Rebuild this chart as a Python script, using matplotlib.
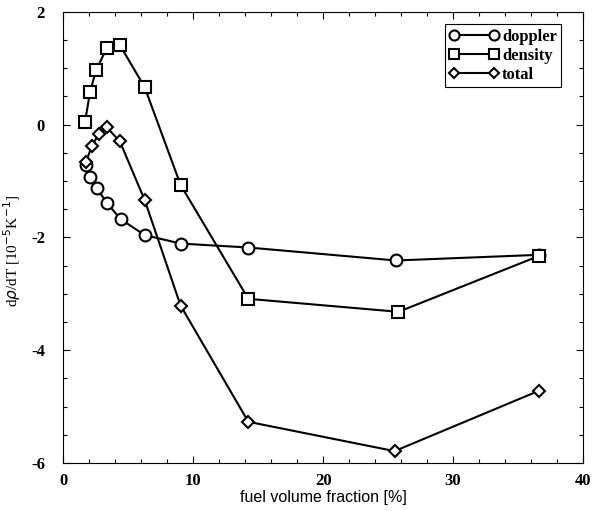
import matplotlib
matplotlib.use("Agg")
import matplotlib.pyplot as plt
from matplotlib.ticker import MultipleLocator

density_x = [1.69, 2.07, 2.53, 3.37, 4.37, 6.28, 9.04, 14.25, 25.8, 36.6]
density_y = [0.05, 0.57, 0.96, 1.36, 1.41, 0.66, -1.07, -3.09, -3.32, -2.33]

doppler_x = [1.76, 2.07, 2.6, 3.37, 4.44, 6.28, 9.04, 14.25, 25.6, 36.6]
doppler_y = [-0.71, -0.93, -1.13, -1.39, -1.68, -1.96, -2.11, -2.18, -2.41, -2.31]

total_x = [1.76, 2.22, 2.76, 3.37, 4.37, 6.28, 9.04, 14.25, 25.5, 36.6]
total_y = [-0.66, -0.38, -0.16, -0.05, -0.30, -1.34, -3.21, -5.27, -5.79, -4.72]

xticks = [0, 10, 20, 30, 40]
yticks = [-6, -4, -2, 0, 2]

fig = plt.figure(figsize=(5.95, 5.11), dpi=100)
ax = fig.add_axes([0.106, 0.094, 0.874, 0.883])

style = dict(color="black", lw=1.5, markerfacecolor="white", markeredgecolor="black",
             markeredgewidth=1.5)
ax.plot(doppler_x, doppler_y, marker="o", ms=8.5, label="doppler", **style)
ax.plot(density_x, density_y, marker="s", ms=8, label="density", **style)
ax.plot(total_x, total_y, marker="D", ms=6, label="total", **style)

ax.set_xlim(0, 40)
ax.set_ylim(-6, 2)
ax.set_xticks(xticks)
ax.set_yticks(yticks)
ax.xaxis.set_minor_locator(MultipleLocator(2))
ax.yaxis.set_minor_locator(MultipleLocator(0.5))
ax.tick_params(which="both", direction="in", top=True, right=True)
ax.tick_params(which="major", length=5, width=0.8)
ax.tick_params(which="minor", length=3, width=0.8)
ax.tick_params(axis="x", which="major", pad=7)
ax.tick_params(axis="y", which="major", pad=13)
ax.set_xticklabels([str(v) for v in xticks], family="Liberation Serif", fontweight="bold", fontsize=12)
ax.set_yticklabels([str(v) for v in yticks], family="Liberation Serif", fontweight="bold", fontsize=12)

ax.set_xlabel("fuel volume fraction [%]", family="Liberation Sans", fontsize=11.5, labelpad=1)
ax.set_ylabel(r"d$\rho$/dT [10$^{-5}$K$^{-1}$]", family="Liberation Serif", fontsize=11)
ax.yaxis.set_label_coords(-0.077, 0.47)

leg = ax.legend(loc="upper right", numpoints=2, handlelength=3.0, handletextpad=0.2,
                bbox_to_anchor=(0.958, 0.972), borderaxespad=0.0,
                fancybox=False, edgecolor="black", framealpha=1,
                prop={"family": "Liberation Serif", "weight": "bold", "size": 12},
                labelspacing=0.2, borderpad=0.25, markerscale=0.85)
leg.get_frame().set_linewidth(0.8)

fig.savefig("out.png", dpi=100)
